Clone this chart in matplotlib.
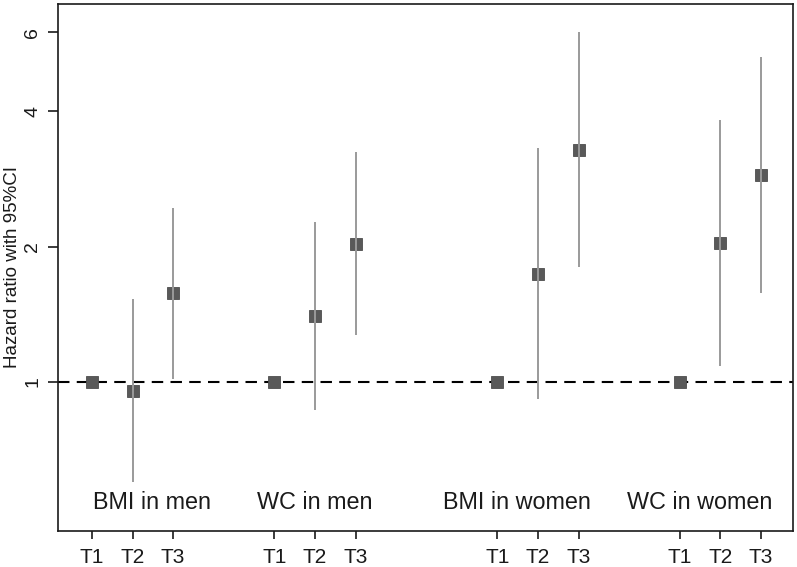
import matplotlib
matplotlib.use("Agg")
import matplotlib.pyplot as plt
import numpy as np

plt.rcParams['font.family'] = ['Liberation Sans', 'DejaVu Sans']

# Data
tick_labels = ["T1", "T2", "T3"] * 4
x_pos = [1, 2, 3, 5.5, 6.5, 7.5, 11, 12, 13, 15.5, 16.5, 17.5]
hr    = [1.0, 0.956, 1.575, 1.0, 1.40, 2.03, 1.0, 1.74, 3.28, 1.0, 2.04, 2.89]
lower = [None, 0.598, 1.017, None, 0.866, 1.27, None, 0.915, 1.80, None, 1.085, 1.58]
upper = [None, 1.53, 2.44, None, 2.27, 3.25, None, 3.32, 5.99, None, 3.82, 5.28]
group_labels = ["BMI in men", "WC in men", "BMI in women", "WC in women"]
group_label_x = [2.49, 6.49, 11.49, 15.99]
y_ticks = [1, 2, 4, 6]

fig = plt.figure(figsize=(7.97, 5.67), dpi=100)
ax = fig.add_axes([58/797, 36/567, 735/797, 527/567])
ax.set_yscale('log')
ax.set_xlim(0.16, 18.29)
ax.set_ylim(0.466, 6.93)

ax.axhline(1, color='black', lw=1.5, dashes=(5.5, 3.5), zorder=1)

for xi, h, lo, up in zip(x_pos, hr, lower, upper):
    ax.plot([xi], [h], marker='s', ms=8.8, color='#595959', mec='#4d4d4d', mew=0.6,
            ls='none', zorder=3)
    if lo is not None:
        ax.plot([xi, xi], [lo, up], color='#9a9a9a', lw=1.4, zorder=4,
                solid_capstyle='butt')

for lab, gx in zip(group_labels, group_label_x):
    ax.text(gx, 0.521, lab, ha='center', va='baseline', fontsize=16.8, color='#1a1a1a')

ax.set_xticks(x_pos)
ax.set_xticklabels(tick_labels, fontsize=15)
ax.set_yticks(y_ticks)
ax.set_yticklabels([str(t) for t in y_ticks], fontsize=14, rotation=90, va='center')
ax.yaxis.set_minor_locator(matplotlib.ticker.NullLocator())
ax.tick_params(axis='x', length=6, width=1.2, pad=6, colors='#1a1a1a')
ax.tick_params(axis='y', length=7, width=1.2, pad=5, colors='#1a1a1a')

ax.set_ylabel("Hazard ratio with 95%CI", fontsize=13.5, color='#1a1a1a')
ax.yaxis.set_label_coords(-0.0505, 0.5)

for s in ax.spines.values():
    s.set_linewidth(1.2)
    s.set_color('#1a1a1a')

fig.savefig("out.png", dpi=100)
